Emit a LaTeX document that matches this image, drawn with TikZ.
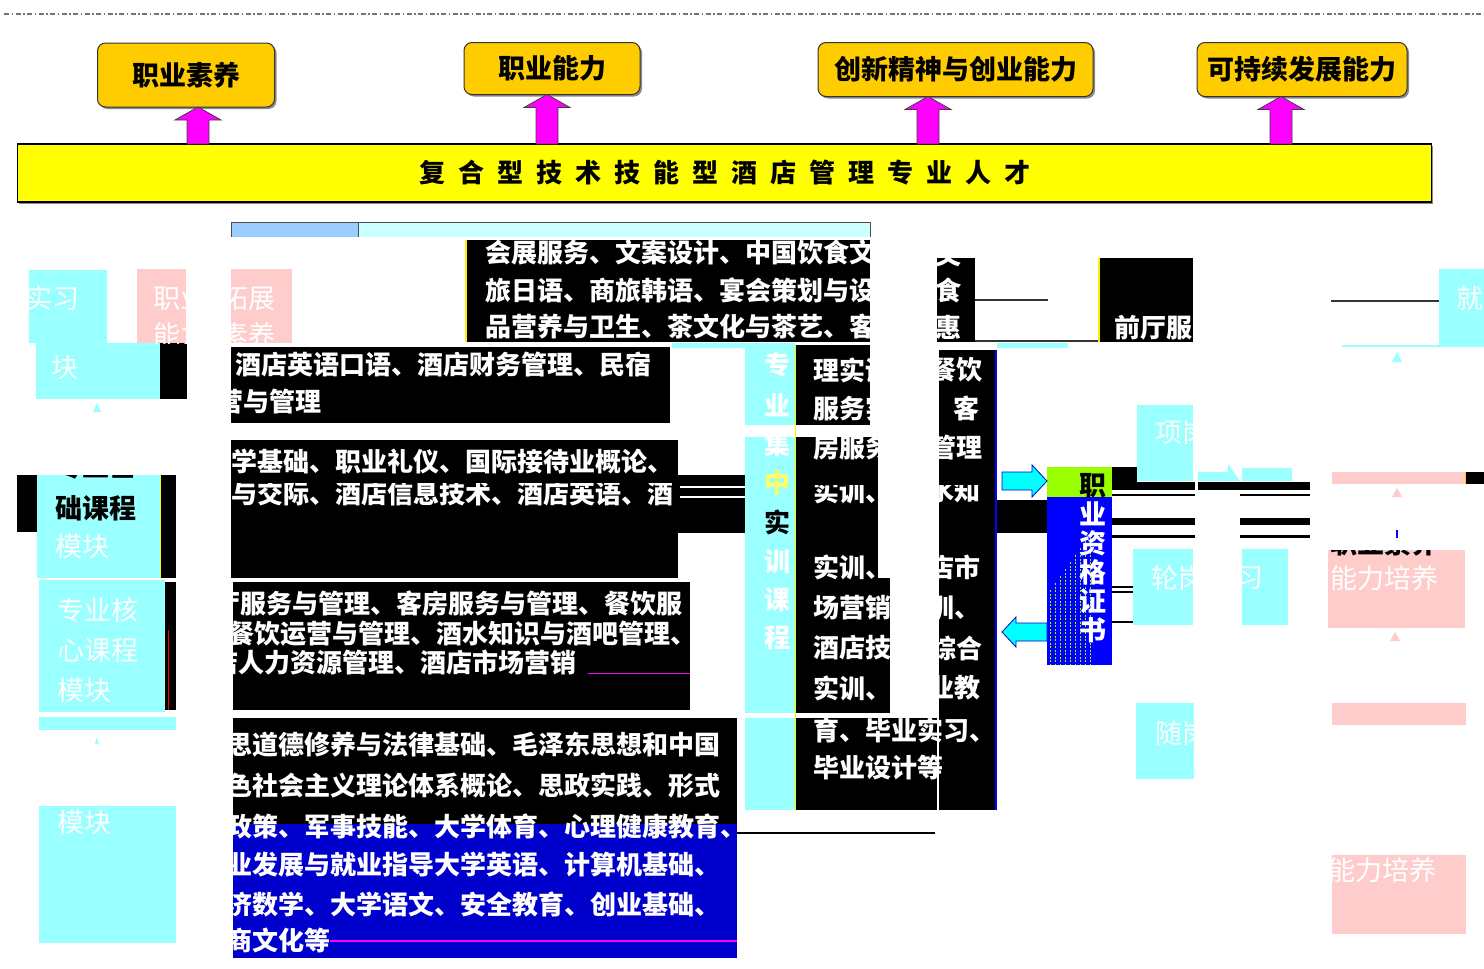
\documentclass[tikz,border=0pt]{standalone}
\usepackage{fontspec}
\newfontfamily\cjk{Noto Sans CJK SC}
\usetikzlibrary{calc,shadows}
\definecolor{obox}{HTML}{FFCC00}
\definecolor{ybar}{HTML}{FFFF00}
\definecolor{mag}{HTML}{FF00FF}
\definecolor{cbox}{HTML}{99FFFF}
\definecolor{pbox}{HTML}{FFCCCC}
\definecolor{lblue}{HTML}{99CCFF}
\definecolor{lcyan}{HTML}{CCFFFF}
\definecolor{dblue}{HTML}{0000CC}
\definecolor{bblue}{HTML}{0000FF}
\definecolor{lgreen}{HTML}{99FF00}
\definecolor{acyan}{HTML}{00FFFF}
\definecolor{yel}{HTML}{FFFF66}
\newcommand\gapc{\hspace{13pt}}
\tikzset{
  whitetxt/.style={anchor=west,text=white,font=\cjk\bfseries\fontsize{26}{30}\selectfont},
  blacktxt/.style={anchor=west,text=black,font=\cjk\bfseries\fontsize{27}{30}\selectfont},
  paletxt/.style={anchor=west,text=white,font=\cjk\fontsize{27}{30}\selectfont},
  goalbox/.style={draw=black!80,line width=1pt,fill=obox,rounded corners=8pt,
    font=\cjk\bfseries\fontsize{27}{30}\selectfont,
    drop shadow={shadow xshift=2pt,shadow yshift=-2pt,fill=black!45,opacity=1}},
  magarr/.style={fill=mag,draw=black!75,line width=0.8pt},
  cyarr/.style={fill=acyan,draw=dblue,line width=0.8pt},
  vchar/.style={anchor=center,font=\cjk\bfseries\fontsize{26}{30}\selectfont},
}
\newcommand\magup[2]{%
  \coordinate (m#2) at (#1,0);
  \draw[magarr] ($(m#2|-bar.north)+(-11,0)$) -- ($(m#2|-#2.south)+(-11,13)$)
    -- ($(m#2|-#2.south)+(-23,13)$) -- (m#2|-#2.south) -- ($(m#2|-#2.south)+(23,13)$)
    -- ($(m#2|-#2.south)+(11,13)$) -- ($(m#2|-bar.north)+(11,0)$) -- cycle;}
\begin{document}
\begin{tikzpicture}[x=1pt,y=-1pt,every node/.style={inner sep=0pt,outer sep=0pt}]
\fill[white] (0,0) rectangle (1484,969);
\useasboundingbox (0,0) rectangle (1484,969);
\draw[black!55,line width=1.4pt,dash pattern=on 5pt off 2.5pt on 1.5pt off 2.5pt] (4,14) -- (1484,14);

% goals
\node[goalbox,minimum width=177,minimum height=64] (g1) at (186,75) {职业素养};
\node[goalbox,minimum width=176,minimum height=52] (g2) at (552,68.5) {职业能力};
\node[goalbox,minimum width=275,minimum height=54] (g3) at (955.5,69.5) {创新精神与创业能力};
\node[goalbox,minimum width=210,minimum height=54] (g4) at (1302,69.5) {可持续发展能力};
\node[draw=black,line width=1.5pt,fill=ybar,minimum width=1414,minimum height=58,
  font=\cjk\bfseries\fontsize{26}{30}\selectfont,
  drop shadow={shadow xshift=1.5pt,shadow yshift=-2pt,fill=black!45,opacity=1}] (bar) at (724.5,173)
  {复\gapc 合\gapc 型\gapc 技\gapc 术\gapc 技\gapc 能\gapc 型\gapc 酒\gapc 店\gapc 管\gapc 理\gapc 专\gapc 业\gapc 人\gapc 才};
\magup{198}{g1}
\magup{547}{g2}
\magup{928}{g3}
\magup{1281}{g4}

% top band
\fill[lblue] (231,222) rectangle (358,237);
\fill[lcyan] (358,222) rectangle (870,237);
\draw[black!70,line width=1pt] (231,237) -- (231,222) -- (870,222) -- (870,237);
\draw[black!70,line width=1pt] (358,222) -- (358,237);

% block A
\fill[black] (465,240) rectangle (870,342);
\draw[yellow,line width=2pt] (466,240) -- (466,342);
\begin{scope}
\clip (467,240) rectangle (870,342);
\node[whitetxt] (a1) at (485,253) {会展服务、文案设计、中国饮食文化};
\node[whitetxt] (a2) at (485,290) {旅日语、商旅韩语、宴会策划与设计};
\node[whitetxt] (a3) at (485,327) {品营养与卫生、茶文化与茶艺、客房};
\end{scope}
\fill[cbox] (672,343) rectangle (795,348);

% block B
\fill[black] (231,347) rectangle (670,423);
\begin{scope}
\clip (231,347) rectangle (670,423);
\node[whitetxt] (b1) at (235,365) {酒店英语口语、酒店财务管理、民宿};
\node[whitetxt] (b2) at (217,402) {营与管理};
\end{scope}

% block C
\fill[black] (231,440) rectangle (678,578);
\fill[black] (678,475) rectangle (745,533);
\fill[white] (680,486) rectangle (745,488);
\fill[white] (680,496) rectangle (745,498);
\begin{scope}
\clip (231,440) rectangle (678,578);
\node[whitetxt] (c1) at (231,462) {学基础、职业礼仪、国际接待业概论、};
\end{scope}
\begin{scope}
\clip (231,483) rectangle (678,578);
\node[whitetxt] (c2) at (231,493) {与交际、酒店信息技术、酒店英语、酒};
\end{scope}

% block D
\fill[black] (233,582) rectangle (690,710);
\begin{scope}
\clip (233,582) rectangle (690,710);
\node[whitetxt] (d1) at (214,604) {厅服务与管理、客房服务与管理、餐饮服};
\node[whitetxt] (d2) at (228,634) {餐饮运营与管理、酒水知识与酒吧管理、};
\node[whitetxt] (d3) at (212,663) {店人力资源管理、酒店市场营销};
\end{scope}
\draw[mag,line width=1pt] (588,673) -- (690,673);

% block E
\fill[black] (233,718) rectangle (737,824);
\fill[dblue] (233,824) rectangle (737,958);
\begin{scope}
\clip (233,718) rectangle (737,958);
\node[whitetxt] (e1) at (226,745) {思道德修养与法律基础、毛泽东思想和中国};
\node[whitetxt] (e2) at (226,786) {色社会主义理论体系概论、思政实践、形式};
\node[whitetxt] (e3) at (226,826) {政策、军事技能、大学体育、心理健康教育、};
\node[whitetxt] (e4) at (226,865) {业发展与就业指导大学英语、计算机基础、};
\node[whitetxt] (e5) at (226,904) {济数学、大学语文、安全教育、创业基础、};
\node[whitetxt] (e6) at (226,940) {商文化等};
\end{scope}
\draw[mag,line width=2.5pt] (330,941) -- (737,941);
\draw[black,line width=1.5pt] (737,833) -- (935,833);

% training column
\fill[cbox] (745,345) rectangle (795,425);
\fill[cbox] (745,437) rectangle (795,713);
\fill[cbox] (745,718) rectangle (795,810);
\node[vchar,text=white] (v1) at (777,365) {专};
\node[vchar,text=white] (v2) at (777,405) {业};
\node[vchar,text=white] (v3) at (777,445) {集};
\node[vchar,text=yel] (v4) at (777,483) {中};
\node[vchar,text=black] (v5) at (777,522) {实};
\node[vchar,text=white] (v6) at (777,562) {训};
\node[vchar,text=white] (v7) at (777,600) {课};
\node[vchar,text=white] (v8) at (777,638) {程};

\fill[black] (795,345) rectangle (870,425);
\fill[black] (795,437) rectangle (878,578);
\fill[black] (795,578) rectangle (890,713);
\fill[black] (795,718) rectangle (937,810);
\fill[black] (939,350) rectangle (995,810);
\draw[yellow,line width=1.5pt] (795.5,345) -- (795.5,810);
\draw[bblue,line width=2pt] (996,350) -- (996,810);
\begin{scope}
\clip (795,345) rectangle (870,425) (795,437) rectangle (878,578) (795,578) rectangle (890,713);
\node[whitetxt] (m1) at (813,370) {理实训};
\node[whitetxt] (m2) at (813,408) {服务实};
\node[whitetxt] (m3) at (813,448) {房服务};
\node[whitetxt] (m5) at (813,567) {实训、};
\node[whitetxt] (m6) at (813,608) {场营销};
\node[whitetxt] (m7) at (813,648) {酒店技};
\node[whitetxt] (m8) at (813,688) {实训、};
\end{scope}
\begin{scope}
\clip (795,485) rectangle (878,578) (939,485) rectangle (995,578);
\node[whitetxt] (m4) at (813,491) {实训、};
\node[whitetxt] (r4) at (928,491) {水知};
\end{scope}
\node[whitetxt] (m9) at (813,730) {育、毕业实习、};
\node[whitetxt] (m10) at (813,768) {毕业设计等};
\begin{scope}
\clip (939,350) rectangle (995,713);
\node[whitetxt] (r1) at (930,370) {餐饮};
\node[whitetxt] (r2) at (953,408) {客};
\node[whitetxt] (r3) at (930,448) {管理};
\node[whitetxt] (r5) at (928,567) {店市};
\node[whitetxt] (r6) at (928,608) {训、};
\node[whitetxt] (r7) at (930,648) {综合};
\node[whitetxt] (r8) at (928,688) {业教};
\end{scope}

% upper right pieces
\fill[black] (937,258) rectangle (975,342);
\begin{scope}
\clip (937,258) rectangle (975,342);
\node[whitetxt] (u1) at (935,254) {文};
\node[whitetxt] (u2) at (935,290) {食};
\node[whitetxt] (u3) at (935,327) {惠};
\end{scope}
\draw[black!80,line width=1.5pt] (975,300) -- (1048,300);
\draw[black!80,line width=1.5pt] (975,341) -- (1098,341);
\fill[black] (1098,258) rectangle (1193,342);
\draw[yellow,line width=2pt] (1099,258) -- (1099,342);
\begin{scope}
\clip (1100,258) rectangle (1193,342);
\node[whitetxt] (q1) at (1114,328) {前厅服务};
\end{scope}
\fill[cbox] (997,343) rectangle (1068,348);
\fill[black] (997,500) rectangle (1047,533);

% certificate bar
\node[fill=bblue,minimum width=65,minimum height=198] (cert) at (1079.5,566) {};
\fill[lgreen] (1047,467) rectangle (1112,497);
\foreach \xx in {1050,1055,...,1090} {
  \pgfmathsetmacro\yt{590-(\xx-1050)*1.4}
  \draw[lgreen,line width=1pt,dash pattern=on 2pt off 1.5pt] (\xx,\yt) -- (\xx,665);
}
\node[align=center,text=white,font=\cjk\bfseries\fontsize{27}{29}\selectfont,anchor=north] (certtxt) at (1093,473)
  {\textcolor{black}{职}\\业\\资\\格\\证\\书};
\coordinate (ra) at (1002,481);
\draw[cyarr] ($(ra)+(0,-9)$) -- ($(ra -| cert.west)+(-15,-9)$) -- ($(ra -| cert.west)+(-15,-16)$)
  -- (ra -| cert.west) -- ($(ra -| cert.west)+(-15,16)$) -- ($(ra -| cert.west)+(-15,9)$) -- ($(ra)+(0,9)$) -- cycle;
\coordinate (la) at (1002,632);
\draw[cyarr] ($(la -| cert.west)+(0,-9)$) -- ($(la)+(14,-9)$) -- ($(la)+(14,-15)$)
  -- (la) -- ($(la)+(14,15)$) -- ($(la)+(14,9)$) -- ($(la -| cert.west)+(0,9)$) -- cycle;

% right of certificate
\fill[cbox] (1137,405) rectangle (1193,481);
\begin{scope}
\clip (1137,405) rectangle (1193,481);
\node[paletxt] (k3) at (1155,432) {项岗};
\end{scope}
\fill[cbox] (1242,468) rectangle (1292,481);
\fill[cbox] (1198,472) rectangle (1228,481);
\fill[cbox] (1228,464) -- (1240,481) -- (1228,481) -- cycle;
\fill[black] (1112,467) rectangle (1137,490);
\fill[black] (1112,482) rectangle (1195,490);
\fill[black] (1198,482) rectangle (1310,490);
\fill[black] (1112,494) rectangle (1195,496);
\fill[black] (1240,494) rectangle (1310,496);
\fill[black] (1112,518) rectangle (1195,525);
\fill[black] (1240,518) rectangle (1310,525);
\fill[black] (1112,535) rectangle (1195,538);
\fill[black] (1240,535) rectangle (1310,538);
\fill[black] (1112,586) rectangle (1133,588);
\fill[black] (1112,591) rectangle (1133,593);
\fill[black] (1112,621) rectangle (1133,623);
\fill[cbox] (1133,549) rectangle (1193,625);
\fill[cbox] (1242,549) rectangle (1288,625);
\begin{scope}
\clip (1133,549) rectangle (1193,625);
\node[paletxt] (k1) at (1151,578) {轮岗};
\end{scope}
\begin{scope}
\clip (1242,549) rectangle (1288,625);
\node[paletxt] (k2) at (1236,578) {习};
\end{scope}
\fill[cbox] (1136,703) rectangle (1194,779);
\begin{scope}
\clip (1136,703) rectangle (1194,779);
\node[paletxt] (k4) at (1155,733) {随岗};
\end{scope}

% far right
\draw[black!80,line width=1.5pt] (1331,301) -- (1439,301);
\fill[cbox] (1439,269) rectangle (1484,347);
\node[paletxt] (f1) at (1456,298) {就};
\draw[cbox,line width=2pt] (1342,346) -- (1463,346);
\fill[cbox] (1392,362) -- (1397,352) -- (1402,362) -- cycle;
\fill[pbox] (1332,472) rectangle (1465,484);
\fill[black] (1465,472) rectangle (1484,484);
\draw[obox,line width=1.5pt] (1465.5,472) -- (1465.5,484);
\fill[pbox] (1392,497) -- (1397,488) -- (1402,497) -- cycle;
\fill[bblue] (1396,530) rectangle (1398,538);
\fill[pbox] (1328,550) rectangle (1465,628);
\begin{scope}
\clip (1328,550) rectangle (1465,628);
\node[blacktxt] (f3) at (1330,543) {职业素养};
\node[paletxt] (f2) at (1330,578) {能力培养};
\end{scope}
\fill[pbox] (1390,641) -- (1395,632) -- (1400,641) -- cycle;
\fill[pbox] (1332,703) rectangle (1466,725);
\fill[pbox] (1332,855) rectangle (1466,934);
\begin{scope}
\clip (1332,855) rectangle (1466,934);
\node[paletxt] (f4) at (1328,870) {能力培养};
\end{scope}

% left column
\fill[cbox] (29,270) rectangle (107,343);
\fill[cbox] (36,343) rectangle (160,399);
\fill[black] (160,343) rectangle (187,399);
\fill[pbox] (137,269) rectangle (186,343);
\fill[pbox] (231,269) rectangle (292,343);
\begin{scope}
\clip (29,270) rectangle (107,343);
\node[paletxt] (l1) at (25,298) {实习};
\end{scope}
\node[paletxt] (l2) at (51,367) {块};
\begin{scope}
\clip (137,269) rectangle (186,343);
\node[paletxt] (l3) at (153,298) {职业};
\node[paletxt] (l4) at (153,335) {能力};
\end{scope}
\begin{scope}
\clip (231,269) rectangle (292,343);
\node[paletxt] (l5) at (221,298) {拓展};
\node[paletxt] (l6) at (221,335) {素养};
\end{scope}
\fill[cbox] (93,412) -- (97,403) -- (101,412) -- cycle;
\fill[black] (17,475) rectangle (37,532);
\fill[cbox] (37,475) rectangle (160,578);
\fill[black] (160,475) rectangle (176,578);
\draw[yellow,line width=1pt] (160.5,475) -- (160.5,578);
\begin{scope}
\clip (37,475) rectangle (160,578);
\node[blacktxt] (l7) at (55,466) {专业基};
\node[blacktxt] (l8) at (55,508) {础课程};
\node[paletxt] (l9) at (55,546) {模块};
\end{scope}
\fill[cbox] (39,580) rectangle (165,712);
\fill[black] (165,582) rectangle (176,710);
\draw[red,line width=1pt] (168,630) -- (168,710);
\node[paletxt] (l10) at (57,610) {专业核};
\node[paletxt] (l11) at (57,650) {心课程};
\node[paletxt] (l12) at (57,690) {模块};
\fill[cbox] (39,717) rectangle (176,730);
\fill[cbox] (95,744) -- (97,737) -- (99,744) -- cycle;
\fill[cbox] (39,806) rectangle (176,943);
\node[paletxt] (l13) at (57,822) {模块};
\end{tikzpicture}
\end{document}
